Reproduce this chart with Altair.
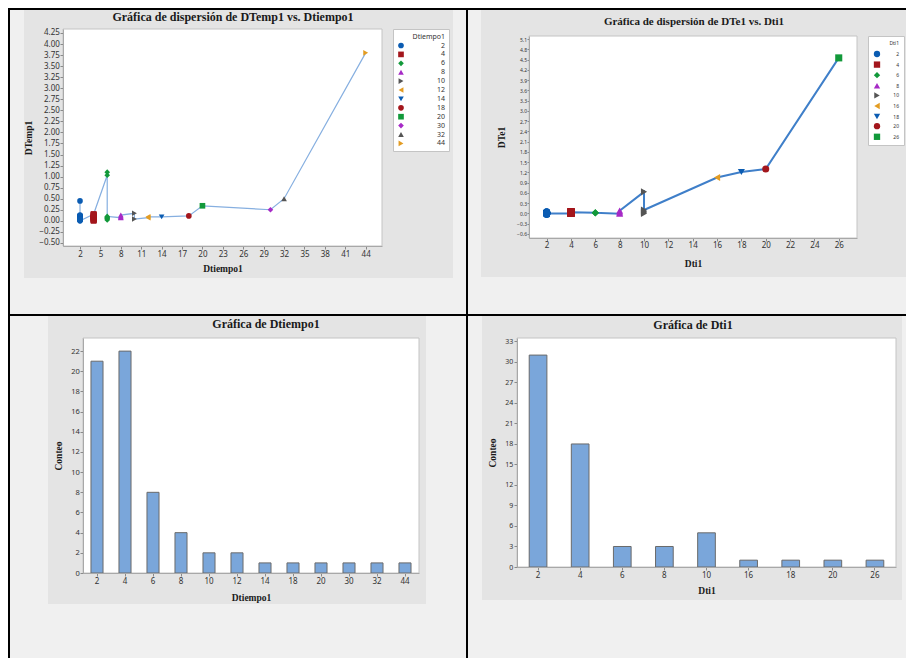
import altair as alt
import pandas as pd

# ---------------- data ----------------
dtiempo1_groups = [2, 4, 6, 8, 10, 12, 14, 18, 20, 30, 32, 44]
dtemp1_by_group = [
    [0.45, 0.13, 0.12, 0.11, 0.10, 0.10, 0.09, 0.08, 0.08, 0.07, 0.06,
     0.06, 0.05, 0.05, 0.04, 0.04, 0.03, 0.03, 0.02, 0.01, 0.00],
    [0.15, 0.00, 0.01, 0.01, 0.02, 0.03, 0.03, 0.04, 0.05, 0.05, 0.06,
     0.07, 0.08, 0.08, 0.09, 0.10, 0.11, 0.12, 0.13, 0.14, 0.14, 0.15],
    [1.03, 1.10, 0.02, 0.04, 0.05, 0.07, 0.08, 0.10],
    [0.07, 0.08, 0.10, 0.13],
    [0.17, 0.04],
    [0.07, 0.09],
    [0.09],
    [0.11],
    [0.34],
    [0.25],
    [0.50],
    [3.80],
]

dti1_groups = [2, 4, 6, 8, 10, 16, 18, 20, 26]
dte1_by_group = [
    [0.05, 0.04, 0.04, 0.03, 0.03, 0.03, 0.02, 0.02, 0.02, 0.02, 0.01,
     0.01, 0.01, 0.01, 0.01, 0.00, 0.00, 0.00, 0.00, 0.00, 0.00, 0.00,
     -0.01, -0.01, -0.01, -0.01, -0.02, -0.02, -0.02, -0.03, 0.00],
    [0.00, 0.01, 0.02, 0.03, 0.04, 0.05, 0.05, 0.04, 0.03, 0.02, 0.01,
     0.00, 0.01, 0.02, 0.03, 0.04, 0.03, 0.03],
    [0.02, 0.01, 0.02],
    [-0.01, 0.03, 0.08],
    [0.63, 0.00, 0.03, 0.06, 0.10],
    [1.05],
    [1.21],
    [1.30],
    [4.55],
]

hist1_categories = ["2", "4", "6", "8", "10", "12", "14", "18", "20", "30", "32", "44"]
hist1_counts = [21, 22, 8, 4, 2, 2, 1, 1, 1, 1, 1, 1]
hist2_categories = ["2", "4", "6", "8", "10", "16", "18", "20", "26"]
hist2_counts = [31, 18, 3, 3, 5, 1, 1, 1, 1]

x1_ticks = [2, 5, 8, 11, 14, 17, 20, 23, 26, 29, 32, 35, 38, 41, 44]
y1_ticks = [-0.50, -0.25, 0.00, 0.25, 0.50, 0.75, 1.00, 1.25, 1.50, 1.75,
            2.00, 2.25, 2.50, 2.75, 3.00, 3.25, 3.50, 3.75, 4.00, 4.25]
x2_ticks = [2, 4, 6, 8, 10, 12, 14, 16, 18, 20, 22, 24, 26]
y2_ticks = [-0.6, -0.3, 0.0, 0.3, 0.6, 0.9, 1.2, 1.5, 1.8, 2.1, 2.4, 2.7,
            3.0, 3.3, 3.6, 3.9, 4.2, 4.5, 4.8, 5.1]
hist1_y_ticks = [0, 2, 4, 6, 8, 10, 12, 14, 16, 18, 20, 22]
hist2_y_ticks = [0, 3, 6, 9, 12, 15, 18, 21, 24, 27, 30, 33]

# ---------------- style ----------------
SERIF = "Liberation Serif"
SANS = "Noto Sans"
BLUE, RED, GREEN = "#0b5cb2", "#a3161c", "#12993a"
PURPLE, GRAY, ORANGE = "#a62ac6", "#555555", "#e39c22"
PANEL_BG = "#e4e4e4"
PAGE_BG = "#f0f0f0"
BAR_FILL = "#7aa6da"

colors1 = [BLUE, RED, GREEN, PURPLE, GRAY, ORANGE, BLUE, RED, GREEN, PURPLE, GRAY, ORANGE]
shapes1 = ["circle", "square", "diamond", "triangle-up", "triangle-right", "triangle-left",
           "triangle-down", "circle", "square", "diamond", "triangle-up", "triangle-right"]
colors2 = colors1[:9]
shapes2 = shapes1[:9]

one = pd.DataFrame({"k": [0]})


def scatter_frame(groups, values, name):
    rows = []
    seq = 0
    for g, ys in zip(groups, values):
        for y in ys:
            rows.append({"x": g, "y": y, name: str(g), "seq": seq})
            seq += 1
    return pd.DataFrame(rows)


def rect(x, x2, y, y2, fill, stroke=None):
    if stroke:
        m = alt.Chart(one).mark_rect(fill=fill, stroke=stroke, strokeWidth=1)
    else:
        m = alt.Chart(one).mark_rect(fill=fill, strokeWidth=0)
    return m.encode(x=alt.value(x), x2=alt.value(x2), y=alt.value(y), y2=alt.value(y2))


def title_text(txt, x, y, size):
    return alt.Chart(one).mark_text(
        text=txt, font=SERIF, fontSize=size, fontWeight="bold", color="#1a1a1a",
        align="center", baseline="middle"
    ).encode(x=alt.value(x), y=alt.value(y))


def axis(title, values=None, label_size=8, label_pad=1, title_pad=5, fmt=None,
         tick_size=3, angle=None, offset=0):
    kw = dict(title=title, grid=False, zindex=1, domainColor="#a8a8a8", domainWidth=1,
              tickColor="#8a8a8a", tickSize=tick_size, tickWidth=1,
              labelFont=SANS, labelFontSize=label_size, labelColor="#333333",
              labelPadding=label_pad, labelOverlap=False, labelFlush=False,
              titleFont=SERIF, titleFontSize=9.5, titleFontWeight="bold",
              titleColor="#1a1a1a", titlePadding=title_pad, offset=offset)
    if values is not None:
        kw["values"] = values
    if fmt:
        kw["format"] = fmt
    if angle is not None:
        kw["labelAngle"] = angle
    return alt.Axis(**kw)


def legend(title, lx, ly, fsize, sym, offset, rowpad, pad, tpad):
    return alt.Legend(
        title=title, orient="none", legendX=lx, legendY=ly, titleAnchor="end",
        titleFont=SANS, titleFontSize=fsize, titleFontWeight="normal", titleColor="#333333",
        titlePadding=tpad, labelFont=SANS, labelFontSize=fsize, labelColor="#333333",
        labelAlign="right", labelOffset=offset, symbolSize=sym, rowPadding=rowpad,
        padding=pad, fillColor="white", strokeColor="#c4c4c4")


# ---------------- panel 1: scatter DTemp1 vs Dtiempo1 ----------------
# group origin sits 20px right of the plot's left edge (column shared with panel 3)
W1, H1 = 299, 217
df1 = scatter_frame(dtiempo1_groups, dtemp1_by_group, "g1")
x_enc1 = alt.X("x:Q", scale=alt.Scale(domain=[-0.5, 46.4], range=[-20, W1], nice=False, zero=False),
               axis=axis("Dtiempo1", values=x1_ticks, title_pad=5))
y_enc1 = alt.Y("y:Q", scale=alt.Scale(domain=[-0.57, 4.34], nice=False, zero=False),
               axis=axis("DTemp1", values=y1_ticks, fmt=".2f", label_pad=0.7, title_pad=5,
                         offset=20))
leg1 = legend("Dtiempo1", 310, 0, 7, 32, 40, 1.9, 4, 1.5)
line1 = alt.Chart(df1).mark_line(color="#86afe0", strokeWidth=1.2).encode(
    x=x_enc1, y=y_enc1, order="seq:Q")
pts1 = alt.Chart(df1).mark_point(filled=True, size=32, opacity=1).encode(
    x=x_enc1, y=y_enc1,
    color=alt.Color("g1:N", scale=alt.Scale(domain=[str(g) for g in dtiempo1_groups], range=colors1), legend=leg1),
    shape=alt.Shape("g1:N", scale=alt.Scale(domain=[str(g) for g in dtiempo1_groups], range=shapes1), legend=leg1),
)
borders = [
    rect(-75, 823, -21, -19, "#000000"),
    rect(-75, -73, -21, 629, "#000000"),
    rect(383, 385, -21, 629, "#000000"),
    rect(-75, 823, 285, 287, "#000000"),
]
p1 = alt.layer(
    rect(-59, 370, -19, 249, PANEL_BG),
    rect(-20, W1, 0, H1, "white", "#c4c4c4"),
    line1, pts1,
    title_text("Gráfica de dispersión de DTemp1 vs. Dtiempo1", 150, -12, 12),
    *borders,
).properties(width=W1, height=H1)

# ---------------- panel 2: scatter DTe1 vs Dti1 ----------------
# plot shifted 12px right and 7px down inside its cell
W2, H2 = 340, 209
df2 = scatter_frame(dti1_groups, dte1_by_group, "g2")
x_enc2 = alt.X("x:Q", scale=alt.Scale(domain=[0.55, 27.5], range=[12, W2], nice=False, zero=False),
               axis=axis("Dti1", values=x2_ticks, label_pad=0.5, title_pad=8.5))
y_enc2 = alt.Y("y:Q", scale=alt.Scale(domain=[-0.72, 5.19], range=[H2, 7], nice=False, zero=False),
               axis=axis("DTe1", values=y2_ticks, fmt=".1f", label_size=5, label_pad=0.5,
                         tick_size=2, title_pad=10, offset=-12))
leg2 = legend("Dti1", 351, 7, 5, 40, 18, 2.6, 5, 4)
line2 = alt.Chart(df2).mark_line(color="#3f7fc9", strokeWidth=2).encode(
    x=x_enc2, y=y_enc2, order="seq:Q")
pts2 = alt.Chart(df2).mark_point(filled=True, size=50, opacity=1).encode(
    x=x_enc2, y=y_enc2,
    color=alt.Color("g2:N", scale=alt.Scale(domain=[str(g) for g in dti1_groups], range=colors2), legend=leg2),
    shape=alt.Shape("g2:N", scale=alt.Scale(domain=[str(g) for g in dti1_groups], range=shapes2), legend=leg2),
)
p2 = alt.layer(
    rect(-36, 389, -19, 248, PANEL_BG),
    rect(12, W2, 7, H2, "white", "#c4c4c4"),
    line2, pts2,
    title_text("Gráfica de dispersión de DTe1 vs. Dti1", 177, -7, 11),
).properties(width=W2, height=H2)

# ---------------- panel 3: histogram Dtiempo1 ----------------
W3, H3 = 336, 235
dfh1 = pd.DataFrame({"cat": hist1_categories, "n": hist1_counts})
bars1 = alt.Chart(dfh1).mark_bar(fill=BAR_FILL, stroke="#6a6a6a", strokeWidth=1).encode(
    x=alt.X("cat:N", sort=hist1_categories,
            scale=alt.Scale(paddingInner=0.57, paddingOuter=0.285),
            axis=axis("Dtiempo1", angle=0, title_pad=7)),
    y=alt.Y("n:Q", scale=alt.Scale(domain=[0, 23.3], nice=False),
            axis=axis("Conteo", values=hist1_y_ticks, label_size=7.5, label_pad=0.7, title_pad=7)),
)
p3 = alt.layer(
    rect(-35, 343, -22, 266, PANEL_BG),
    rect(0, W3, 0, H3, "white", "#c4c4c4"),
    bars1,
    title_text("Gráfica de Dtiempo1", 183, -14, 12),
).properties(width=W3, height=H3)

# ---------------- panel 4: histogram Dti1 ----------------
W4, H4 = 379, 229
dfh2 = pd.DataFrame({"cat": hist2_categories, "n": hist2_counts})
bars2 = alt.Chart(dfh2).mark_bar(fill=BAR_FILL, stroke="#6a6a6a", strokeWidth=1).encode(
    x=alt.X("cat:N", sort=hist2_categories,
            scale=alt.Scale(paddingInner=0.58, paddingOuter=0.29),
            axis=axis("Dti1", angle=0, label_pad=1.7, title_pad=5.5)),
    y=alt.Y("n:Q", scale=alt.Scale(domain=[0, 33.5], nice=False),
            axis=axis("Conteo", values=hist2_y_ticks, label_size=7, label_pad=1.3, title_pad=7)),
)
p4 = alt.layer(
    rect(-35, 385, -22, 262, PANEL_BG),
    rect(0, W4, 0, H4, "white", "#c4c4c4"),
    bars2,
    title_text("Gráfica de Dti1", 176, -13, 12),
).properties(width=W4, height=H4)

# ---------------- layout ----------------
chart = alt.concat(
    p1, p2, p3, p4,
    columns=2, spacing={"column": 98, "row": 92}, bounds="flush",
).resolve_scale(
    color="independent", shape="independent", x="independent", y="independent"
).resolve_legend(
    color="independent", shape="independent"
).properties(background=PAGE_BG, padding=0).configure_view(strokeWidth=0)

chart.save("out.html", embed_options={"renderer": "svg", "actions": False})
